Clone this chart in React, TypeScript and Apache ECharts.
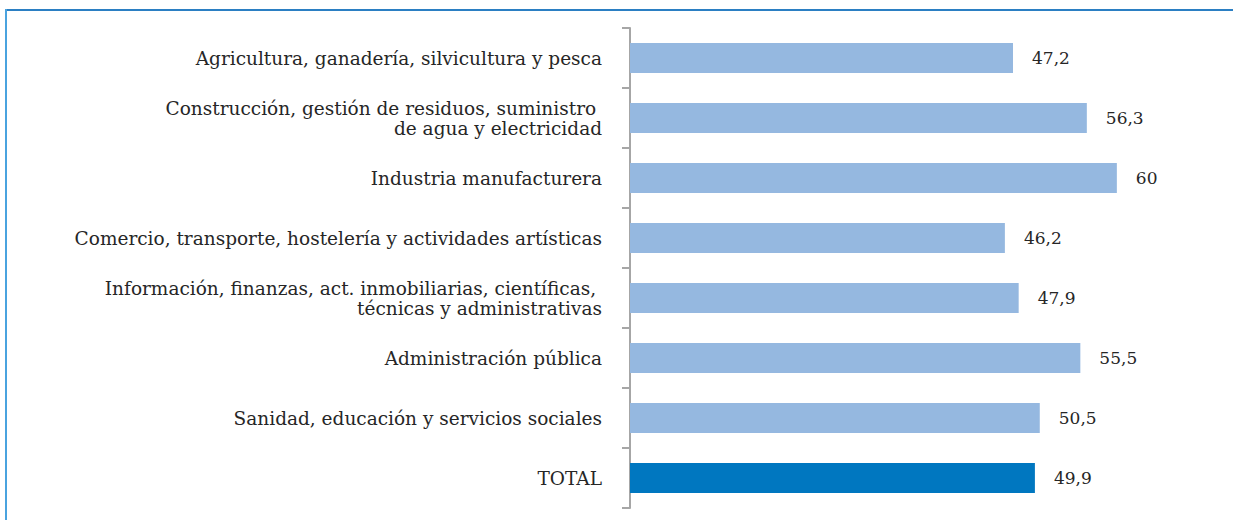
import React, { useEffect, useRef } from "react";
import * as echarts from "echarts";

const categories = [
  "Agricultura, ganadería, silvicultura y pesca",
  "Construcción, gestión de residuos, suministro \nde agua y electricidad",
  "Industria manufacturera",
  "Comercio, transporte, hostelería y actividades artísticas",
  "Información, finanzas, act. inmobiliarias, científicas, \ntécnicas y administrativas",
  "Administración pública",
  "Sanidad, educación y servicios sociales",
  "TOTAL",
];
const values = [47.2, 56.3, 60, 46.2, 47.9, 55.5, 50.5, 49.9];
const highlightIndex = 7;

export default function App() {
  const ref = useRef<HTMLDivElement>(null);
  useEffect(() => {
    document.body.style.margin = "0";
    const chart = echarts.init(ref.current!, null, { renderer: "svg" });
    const font = "DejaVu Serif";
    chart.setOption({
      animation: false,
      backgroundColor: "#ffffff",
      grid: { left: 630, right: 35, top: 28, bottom: 12, containLabel: false },
      xAxis: { type: "value", min: 0, max: 70, show: false },
      yAxis: {
        type: "category",
        inverse: true,
        data: categories,
        axisLine: { show: true, lineStyle: { color: "#a6a6a6", width: 2 } },
        axisTick: { show: true, length: 8, lineStyle: { color: "#a6a6a6", width: 2 } },
        axisLabel: {
          margin: 28,
          color: "#262626",
          fontFamily: font,
          fontSize: 18.5,
          lineHeight: 20,
          align: "right",
        },
      },
      series: [
        {
          type: "bar",
          data: values.map((v, i) => ({
            value: v,
            itemStyle: { color: i === highlightIndex ? "#0077c0" : "#95b8e0" },
          })),
          barCategoryGap: "50%",
          label: {
            show: true,
            position: "right",
            distance: 19,
            color: "#262626",
            fontFamily: font,
            fontSize: 17,
            formatter: (p: any) => String(p.value).replace(".", ","),
          },
        },
      ],
      graphic: [
        {
          type: "line",
          shape: { x1: 5, y1: 10, x2: 1233, y2: 10 },
          style: { stroke: "#2b7fc3", lineWidth: 2 },
        },
        {
          type: "line",
          shape: { x1: 6, y1: 9, x2: 6, y2: 520 },
          style: { stroke: "#4aa3df", lineWidth: 2 },
        },
      ],
    });
    return () => chart.dispose();
  }, []);
  return <div ref={ref} style={{ width: 1233, height: 520 }} />;
}
